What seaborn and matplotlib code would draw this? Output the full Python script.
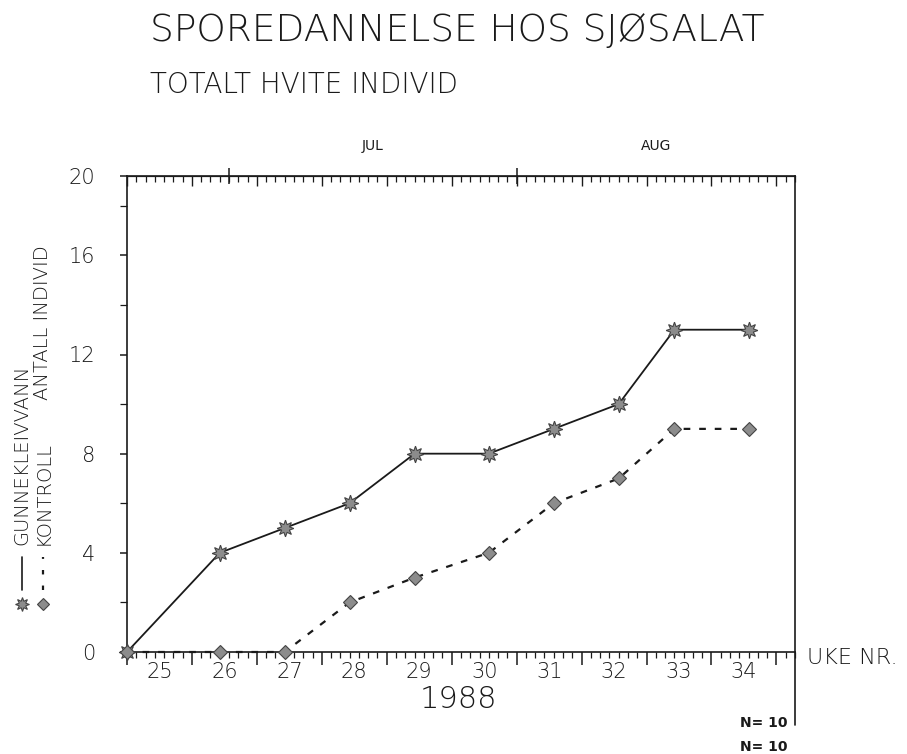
import pandas as pd
import matplotlib.pyplot as plt
import seaborn as sns
from matplotlib.lines import Line2D
from matplotlib.ticker import MultipleLocator

# sampling dates and number of white individuals (N=10 per group)
dates = ['1988-06-20', '1988-06-30', '1988-07-07', '1988-07-14', '1988-07-21',
         '1988-07-29', '1988-08-05', '1988-08-12', '1988-08-18', '1988-08-26']
gunnekleivvann = [0, 4, 5, 6, 8, 8, 9, 10, 13, 13]
kontroll = [0, 0, 0, 2, 3, 4, 6, 7, 9, 9]
week_labels = ['25', '26', '27', '28', '29', '30', '31', '32', '33', '34']
month_labels = ['JUL', 'AUG']
month_starts = ['1988-07-01', '1988-08-01']
y_ticks = [0, 4, 8, 12, 16]
y_top = 19.2        # the frame stops here, the plotter still writes "20" at the top
y_top_label = '20'

start = pd.Timestamp('1988-06-20')  # monday of week 25
end = pd.Timestamp('1988-08-31')
days = (pd.to_datetime(dates) - start).days
month_days = list((pd.to_datetime(month_starts) - start).days)
n_days = (end - start).days

df = pd.DataFrame({'dag': days, 'GUNNEKLEIVVANN': gunnekleivvann, 'KONTROLL': kontroll})

sns.set_style('ticks')
plt.rcParams['font.family'] = ['DejaVu Sans']
plt.rcParams['font.weight'] = 'light'
ink = '#1a1a1a'

fig = plt.figure(figsize=(9.07, 7.54), dpi=100)
ax = fig.add_axes([127 / 907, 102 / 754, 668 / 907, 476 / 754])

# Plot the two series
sns.lineplot(data=df, x='dag', y='GUNNEKLEIVVANN', ax=ax, color=ink, lw=1.3,
             marker=(8, 1, 0), markersize=12, markerfacecolor='#8c8c8c',
             markeredgecolor='#444444', markeredgewidth=0.8, clip_on=False, zorder=4)
sns.lineplot(data=df, x='dag', y='KONTROLL', ax=ax, color=ink, lw=1.6,
             linestyle=(0, (3, 4)), marker='D', markersize=7, markerfacecolor='#8c8c8c',
             markeredgecolor='#444444', markeredgewidth=0.8, clip_on=False, zorder=4)

ax.set_xlim(0, n_days)
ax.set_ylim(0, y_top)
ax.set_xlabel('')
ax.set_ylabel('')

# Frame
for side in ['left', 'right', 'top', 'bottom']:
    ax.spines[side].set_visible(True)
    ax.spines[side].set_color(ink)
    ax.spines[side].set_linewidth(1.2)
ax.axvline(n_days, ymin=-0.153, ymax=0, clip_on=False, color=ink, lw=1.2)

# x axis: day ticks, week boundaries, week numbers centred in each week
ax.set_xticks(range(0, n_days, 7))
ax.set_xticklabels([])
ax.xaxis.set_minor_locator(MultipleLocator(1))
ax.tick_params(axis='x', which='major', direction='out', length=9, width=1.1, color=ink)
ax.tick_params(axis='x', which='minor', direction='out', length=4, width=0.9, color=ink)
for i, lab in enumerate(week_labels):
    ax.text(7 * i + 3.5, -0.042, lab, transform=ax.get_xaxis_transform(),
            ha='center', va='center', fontsize=15, color=ink)

# top axis: days, weeks and month starts
top = ax.secondary_xaxis('top')
top.set_xticks(range(0, n_days, 7))
top.set_xticklabels([])
top.xaxis.set_minor_locator(MultipleLocator(1))
top.tick_params(which='major', direction='in', length=7, width=1.0, color=ink)
top.tick_params(which='minor', direction='in', length=4, width=0.9, color=ink)
months = ax.secondary_xaxis('top')
months.set_xticks(month_days)
months.set_xticklabels([])
months.tick_params(which='major', direction='inout', length=12, width=1.1, color=ink)
bounds = [month_days[0], month_days[1], n_days]
for i, lab in enumerate(month_labels):
    ax.text((bounds[i] + bounds[i + 1]) / 2, 1.063, lab, transform=ax.get_xaxis_transform(),
            ha='center', va='center', fontsize=10, color=ink, fontweight='normal')

# y axis
ax.set_yticks(y_ticks + [y_top])
ax.set_yticklabels([str(v) for v in y_ticks] + [y_top_label], fontsize=15, color=ink)
ax.yaxis.set_minor_locator(MultipleLocator(2))
ax.tick_params(axis='y', which='major', direction='out', length=5, width=1.1, color=ink, pad=18)
ax.tick_params(axis='y', which='minor', direction='out', length=5, width=0.9, color=ink)

# titles and labels
fig.text(150 / 907, 1 - 31 / 754, 'SPOREDANNELSE HOS SJØSALAT', fontsize=27,
         ha='left', va='center', color=ink)
fig.text(150 / 907, 1 - 85 / 754, 'TOTALT HVITE INDIVID', fontsize=20,
         ha='left', va='center', color=ink)
fig.text(458 / 907, 1 - 700 / 754, '1988', fontsize=22, ha='center', va='center', color=ink)
fig.text(807 / 907, 1 - 658 / 754, 'UKE NR.', fontsize=16, ha='left', va='center', color=ink)
fig.text(787 / 907, 1 - 723 / 754, 'N= 10', fontsize=10, ha='right', va='center', color=ink, fontweight='bold')
fig.text(787 / 907, 1 - 747 / 754, 'N= 10', fontsize=10, ha='right', va='center', color=ink, fontweight='bold')

# legend along the left edge
col1, col2 = 22 / 907, 43 / 907
fig.add_artist(Line2D([col1], [1 - 604 / 754], marker=(8, 1, 0), markersize=10, color='#8c8c8c',
                      markeredgecolor='#444444', markeredgewidth=0.8, transform=fig.transFigure))
fig.add_artist(Line2D([col2], [1 - 604 / 754], marker='D', markersize=6, color='#8c8c8c',
                      markeredgecolor='#444444', markeredgewidth=0.8, transform=fig.transFigure))
fig.add_artist(Line2D([col1, col1], [1 - 590 / 754, 1 - 557 / 754], color=ink, lw=1.2,
                      transform=fig.transFigure))
fig.add_artist(Line2D([col2, col2], [1 - 590 / 754, 1 - 557 / 754], color=ink, lw=1.6,
                      linestyle=(0, (2, 5)), transform=fig.transFigure))
fig.text(col1, 1 - 545 / 754, 'GUNNEKLEIVVANN', rotation=90, ha='center', va='bottom',
         fontsize=14, color=ink)
fig.text(col2, 1 - 545 / 754, 'KONTROLL', rotation=90, ha='center', va='bottom',
         fontsize=14, color=ink)
fig.text(col2, 1 - 400 / 754, 'ANTALL INDIVID', rotation=90, ha='center', va='bottom',
         fontsize=14, color=ink)

fig.savefig('out.png', dpi=100, facecolor='white')
